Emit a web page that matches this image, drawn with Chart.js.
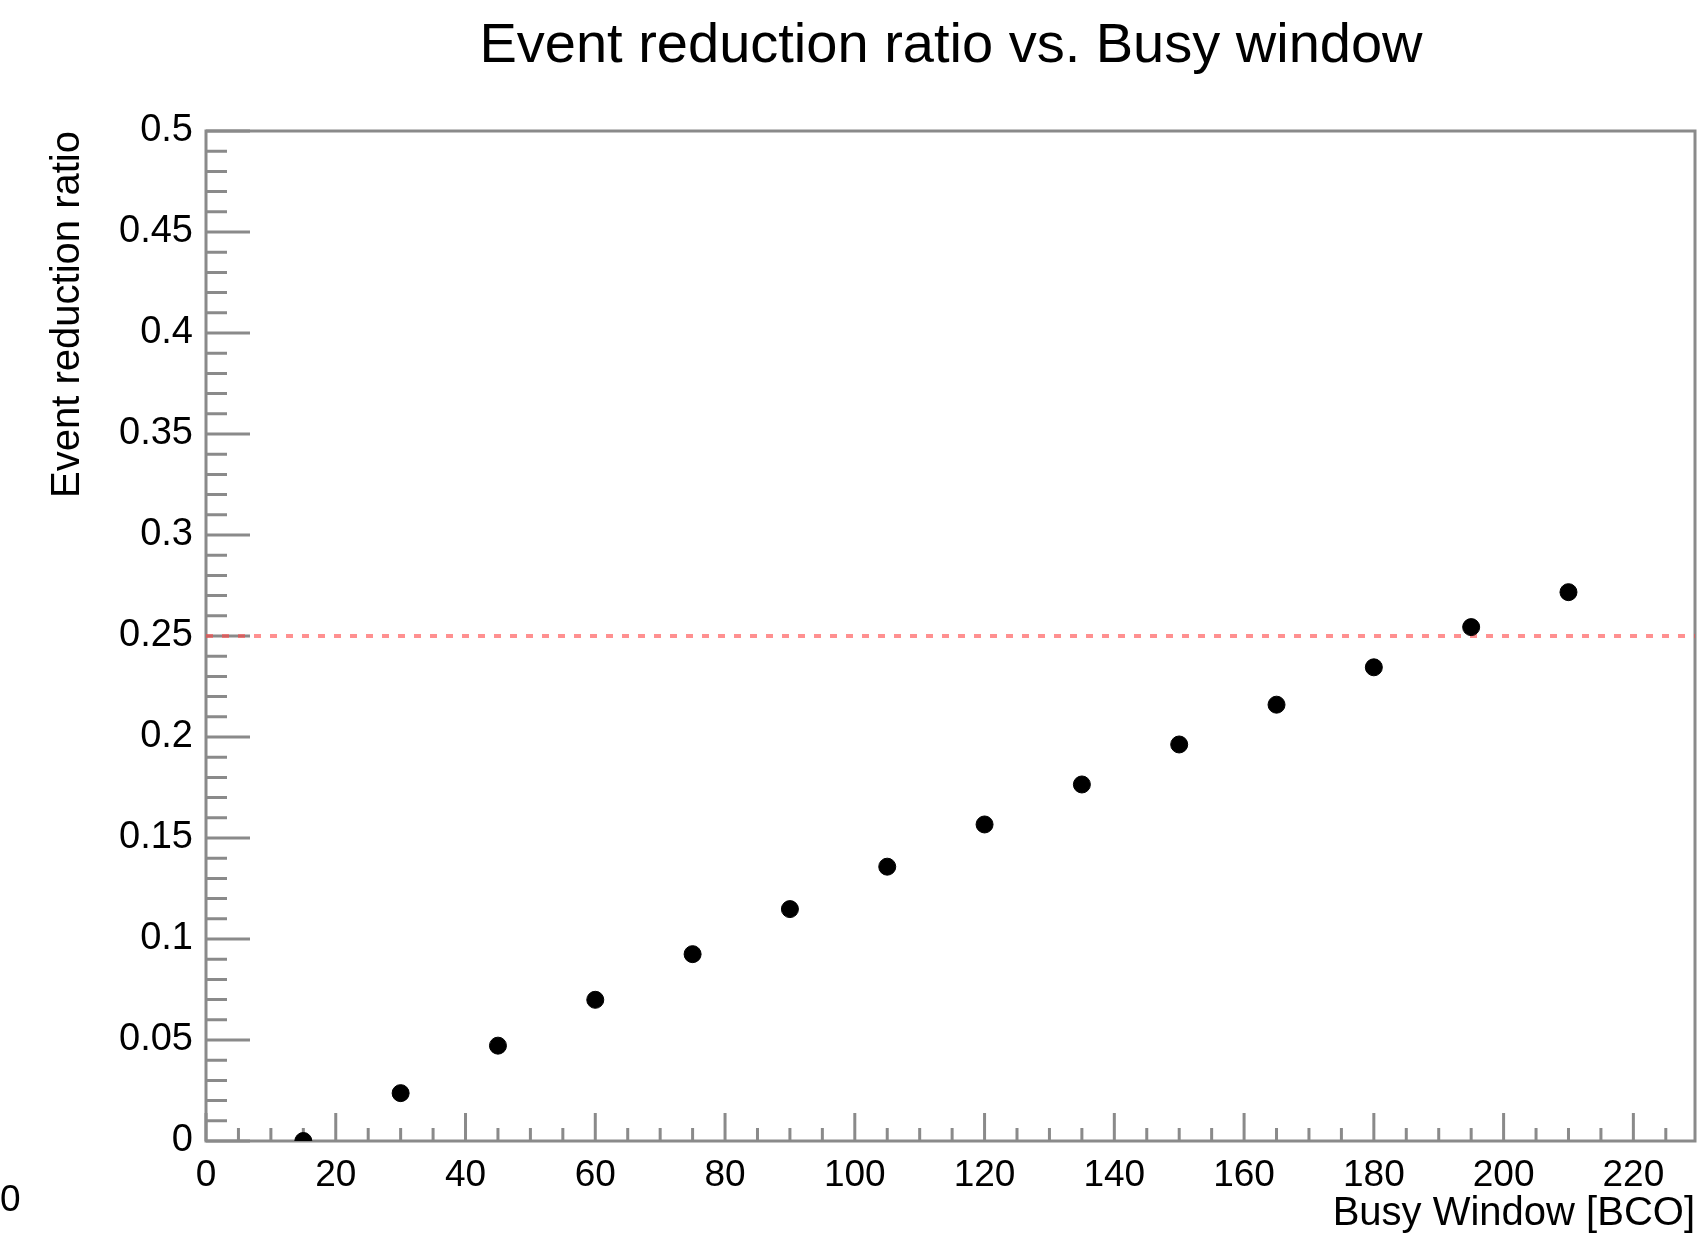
<!DOCTYPE html>
<html>
<head>
<meta charset="utf-8">
<script src="https://cdn.jsdelivr.net/npm/chart.js@4/dist/chart.umd.min.js"></script>
<style>
  html, body { margin: 0; padding: 0; background: #fff; }
  canvas { display: block; }
</style>
</head>
<body>
<canvas id="busyChart" width="1705" height="1233"></canvas>
<script>
// data
var busyWindow = [15, 30, 45, 60, 75, 90, 105, 120, 135, 150, 165, 180, 195, 210];
var reductionRatio = [0.0, 0.0237, 0.0472, 0.0699, 0.0925, 0.1148, 0.1358, 0.1567, 0.1765, 0.1963, 0.2160, 0.2345, 0.2544, 0.2717];
var thresholdRatio = 0.25;
var xRange = [0, 229.5];
var yRange = [0, 0.5];

var titleText = "Event reduction ratio vs. Busy window";
var xTitle = "Busy Window [BCO]";
var yTitle = "Event reduction ratio";

var FONT = "'Liberation Sans', Arial, Helvetica, sans-serif";
var AXIS_COLOR = "#8a8a8a";

// ROOT-style frame with inward ticks and the loose text
var frameTicks = {
  id: "frameTicks",
  beforeDatasetsDraw: function (chart) {
    var ctx = chart.ctx;
    var a = chart.chartArea;
    var xs = chart.scales.x, ys = chart.scales.y;
    ctx.save();
    ctx.strokeStyle = AXIS_COLOR;
    ctx.lineWidth = 3;
    ctx.strokeRect(a.left, a.top, a.right - a.left, a.bottom - a.top);
    ctx.beginPath();
    // y ticks
    for (var i = 0; i <= 50; i++) {
      var v = i * 0.01;
      var py = ys.getPixelForValue(v);
      var len = (i % 5 === 0) ? 44 : 21;
      ctx.moveTo(a.left, py);
      ctx.lineTo(a.left + len, py);
    }
    // x ticks
    for (var j = 0; j * 5 <= xRange[1]; j++) {
      var px = xs.getPixelForValue(j * 5);
      var l = (j % 4 === 0) ? 28 : 13;
      ctx.moveTo(px, a.bottom);
      ctx.lineTo(px, a.bottom - l);
    }
    ctx.stroke();
    ctx.restore();
  },
  afterDraw: function (chart) {
    var ctx = chart.ctx;
    ctx.save();
    ctx.fillStyle = "#000";
    ctx.textBaseline = "alphabetic";
    ctx.font = "56px " + FONT;
    ctx.textAlign = "center";
    ctx.fillText(titleText, 951, 62);
    ctx.font = "40px " + FONT;
    ctx.textAlign = "right";
    ctx.fillText(xTitle, chart.chartArea.right, 1225);
    ctx.font = "37px " + FONT;
    ctx.textAlign = "left";
    ctx.fillText("0", 0, 1211);
    ctx.translate(79, chart.chartArea.top);
    ctx.rotate(-Math.PI / 2);
    ctx.font = "40px " + FONT;
    ctx.textAlign = "right";
    ctx.fillText(yTitle, 0, 0);
    ctx.restore();
  }
};

var ctx = document.getElementById("busyChart").getContext("2d");
new Chart(ctx, {
  type: "scatter",
  data: {
    datasets: [{
      label: "ratio",
      data: busyWindow.map(function (x, i) { return { x: x, y: reductionRatio[i] }; }),
      backgroundColor: "#000",
      borderColor: "#000",
      pointRadius: 8.5,
      pointHoverRadius: 8.5
    }, {
      type: "line",
      label: "threshold",
      data: [{ x: xRange[0], y: thresholdRatio }, { x: xRange[1], y: thresholdRatio }],
      borderColor: "rgba(255, 70, 70, 0.6)",
      borderWidth: 4,
      borderDash: [7, 9],
      pointRadius: 0,
      fill: false
    }]
  },
  options: {
    responsive: false,
    animation: false,
    layout: { padding: { top: 131, right: 10, left: 0, bottom: 0 } },
    plugins: {
      legend: { display: false },
      tooltip: { enabled: false }
    },
    scales: {
      x: {
        type: "linear",
        min: xRange[0],
        max: xRange[1],
        grid: { display: false, drawTicks: false },
        border: { display: false },
        ticks: {
          stepSize: 20,
          includeBounds: false,
          padding: 13,
          maxRotation: 0,
          color: "#000",
          font: { family: FONT, size: 37 }
        },
        afterFit: function (s) { s.height = 92; }
      },
      y: {
        type: "linear",
        min: yRange[0],
        max: yRange[1],
        grid: { display: false, drawTicks: false },
        border: { display: false },
        ticks: {
          stepSize: 0.05,
          padding: 13,
          color: "#000",
          font: { family: FONT, size: 38 },
          callback: function (v) { return String(+v.toFixed(2)); }
        },
        afterFit: function (s) { s.width = 206; }
      }
    }
  },
  plugins: [frameTicks]
});
</script>
</body>
</html>
